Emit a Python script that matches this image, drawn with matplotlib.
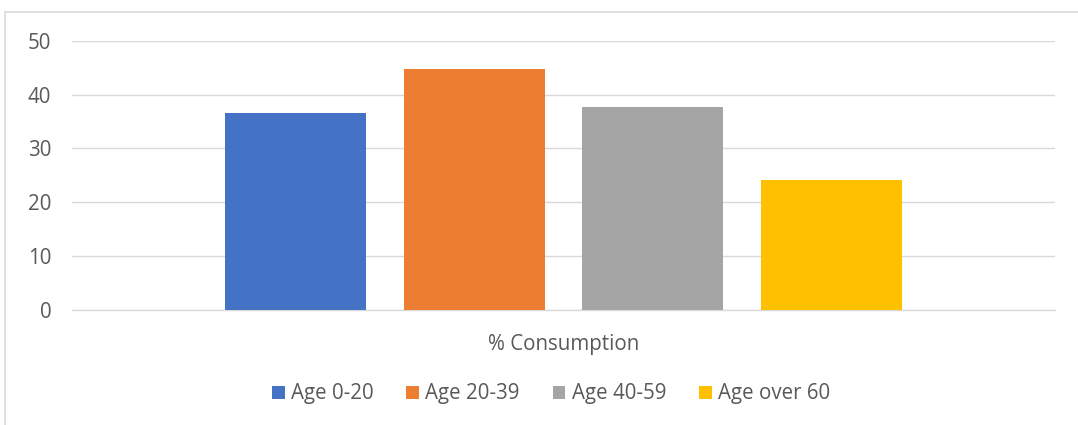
import numpy as np
import matplotlib.pyplot as plt
from matplotlib.lines import Line2D

# dados
categoria = "% Consumption"
series = ["Age 0-20", "Age 20-39", "Age 40-59", "Age over 60"]
valores = [36.6, 44.8, 37.7, 24.2]
cores = ["#4472C4", "#ED7D31", "#A5A5A5", "#FFC000"]
yticks = [0, 10, 20, 30, 40, 50]

COR_TEXTO = "#595959"
COR_GRADE = "#D9D9D9"

plt.rcParams['font.family'] = ['Open Sans', 'DejaVu Sans']

fig = plt.figure(figsize=(10.78, 4.25), dpi=100)
ax = fig.add_axes([0.0668, 0.2706, 0.9120, 0.6336])

largura = 0.1434
passo = 0.1816
n = len(series)
for i, (nome, v, c) in enumerate(zip(series, valores, cores)):
    ax.bar((i - (n - 1) / 2) * passo, v, width=largura, color=c, label=nome, zorder=3)

ax.set_xlim(-0.5, 0.5)
ax.set_ylim(0, 50)
ax.set_yticks(yticks)
ax.set_xticks([0])
ax.set_xticklabels([categoria])
ax.tick_params(axis='both', length=0, labelsize=14.8, colors=COR_TEXTO)
ax.tick_params(axis='y', pad=15)
ax.tick_params(axis='x', pad=17)
ax.grid(axis='y', color=COR_GRADE, linewidth=1.0, zorder=0)
for lado in ['top', 'right', 'left']:
    ax.spines[lado].set_visible(False)
ax.spines['bottom'].set_color(COR_GRADE)
ax.spines['bottom'].set_linewidth(1.0)

fig.legend(loc='center', bbox_to_anchor=(551 / 1078, (425 - 394) / 425), ncol=4,
           frameon=False, fontsize=14.8, labelcolor=COR_TEXTO,
           handlelength=0.62, handleheight=0.62, handletextpad=0.3,
           columnspacing=1.6)

# borda do gráfico
x0 = 4.5 / 1078
y0 = 1 - 11.5 / 425
fig.add_artist(Line2D([x0, 1.0], [y0, y0], color=COR_GRADE, linewidth=1.2))
fig.add_artist(Line2D([x0, x0], [0.0, y0], color=COR_GRADE, linewidth=1.2))

fig.savefig("out.png", dpi=100)
